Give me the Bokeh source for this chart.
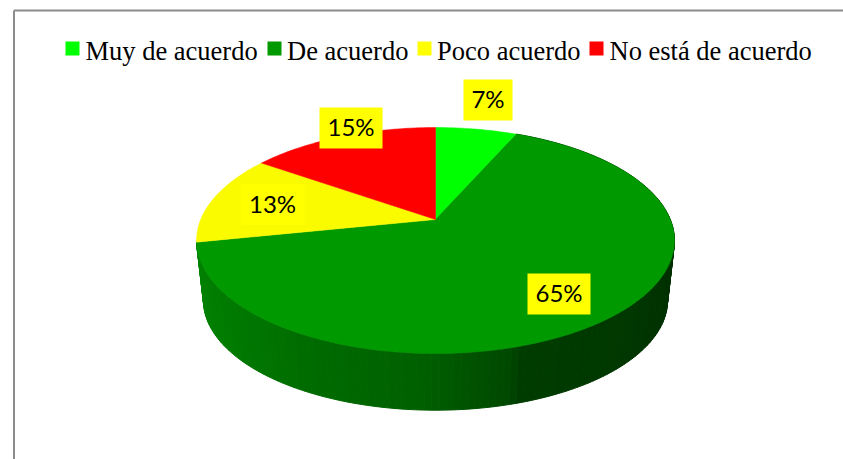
import math
from bokeh.plotting import figure
from bokeh.models import Range1d
from bokeh.core.properties import value
from bokeh.embed import file_html
from bokeh.resources import INLINE

categories = ["Muy de acuerdo", "De acuerdo", "Poco acuerdo", "No está de acuerdo"]
percentages = [6.6, 65.2, 12.9, 15.3]
colors = ["#00ff00", "#009900", "#ffff00", "#ff0000"]
face_colors = ["#00ff00", "#009900", "#fbfb00", "#ff0000"]

W, H = 843, 459
p = figure(width=W, height=H, output_backend="svg", toolbar_location=None,
           x_range=Range1d(0, W), y_range=Range1d(H, 0),
           min_border=0, outline_line_color=None, border_fill_color="white")
p.axis.visible = False
p.grid.visible = False

# perspective projection of the pie's unit disc
CX, CY, A, B, K = 435.0, 219.0, 234.8, 109.1, 0.1858
S, DY = 0.971, 60.6


def proj(theta):
    u, v = math.sin(theta), math.cos(theta)
    d = 1 + K * v
    return CX + A * u / d, CY - B * v / d


def proj_low(theta):
    x, y = proj(theta)
    return CX + S * (x - CX), CY + DY + S * (y - CY)


def wall_color(x):
    stops = [(196, 0x80), (300, 0x6c), (420, 0x60), (510, 0x48), (520, 0x3c), (620, 0x38), (674, 0x30)]
    for (x0, g0), (x1, g1) in zip(stops, stops[1:]):
        if x <= x1:
            t = max(0.0, (x - x0) / (x1 - x0))
            return "#00%02x00" % round(g0 + t * (g1 - g0))
    return "#00%02x00" % stops[-1][1]


total = sum(percentages)
edges = [0.0]
for v_ in percentages:
    edges.append(edges[-1] + v_ / total * 2 * math.pi)

# side wall of the front slice
t0, t1 = edges[1], edges[2]
n = 160
xs, ys, cs = [], [], []
for i in range(n):
    a, b = t0 + (t1 - t0) * i / n, t0 + (t1 - t0) * (i + 1) / n
    pa, pb, qb, qa = proj(a), proj(b), proj_low(b), proj_low(a)
    xs.append([pa[0], pb[0], qb[0], qa[0]])
    ys.append([pa[1], pb[1], qb[1], qa[1]])
    cs.append(wall_color((pa[0] + pb[0]) / 2))
p.patches(xs, ys, fill_color=cs, line_color=cs, line_width=1)

# top faces
for i, c in enumerate(face_colors):
    m = max(8, int(percentages[i] * 3))
    pts = [proj(edges[i] + (edges[i + 1] - edges[i]) * j / m) for j in range(m + 1)]
    p.patch([CX] + [q[0] for q in pts], [CY] + [q[1] for q in pts], fill_color=c, line_color=c, line_width=0.5)

# data labels
label_x = [487.5, 558.5, 272, 350.5]
label_y = [99.5, 293.5, 204, 127.5]
text_y = [y - 1.5 for y in label_y]
box_w = [49, 63, 64, 63]
box_h = 41
p.rect(label_x, label_y, width=box_w, height=box_h, fill_color="#ffff00", line_color=None)
p.text(label_x, text_y, text=[f"{round(v_)}%" for v_ in percentages], text_font=value("Lato"),
       text_font_size="24px", text_color="black", text_align="center", text_baseline="middle")

# legend
key_x = [72, 274, 424, 596]
text_x = [85, 286.5, 436.5, 609]
p.rect(key_x, [48] * 4, width=14, height=14, fill_color=colors, line_color=None)
p.text(text_x, [50] * 4, text=categories, text_font=value("Liberation Serif"),
       text_font_size="26.5px", text_color="black", text_align="left", text_baseline="alphabetic")

# frame
p.segment([13.5, 13.5], [10, 10], [13.5, W], [H, 10], line_color="#8c8c8c", line_width=2)

open("out.html", "w").write(file_html(p, INLINE))
